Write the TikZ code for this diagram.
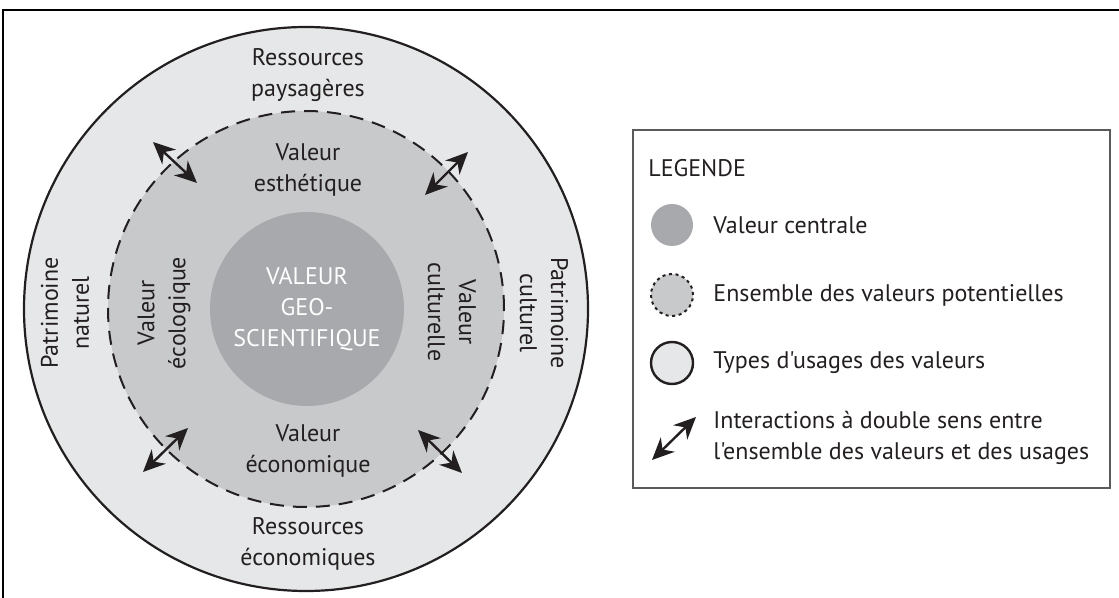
\documentclass[tikz,border=0pt]{standalone}
\usepackage{fontspec}
\setmainfont{PT Sans}[Ligatures=TeXOff]
\usetikzlibrary{arrows.meta}
\definecolor{usage}{RGB}{230,231,232}
\definecolor{potentiel}{RGB}{200,201,203}
\definecolor{centre}{RGB}{167,169,172}
\definecolor{trait}{RGB}{35,31,32}
\definecolor{cadre}{RGB}{90,90,90}
\tikzset{
  lbl/.style={text=trait, align=center, inner sep=0pt, font=\fontsize{12}{15.5}\selectfont},
  dbl/.style={{Stealth[length=11pt,width=10pt]}-{Stealth[length=11pt,width=10pt]}, line width=1.2pt, draw=trait},
}
\begin{document}
\begin{tikzpicture}[x=0.5pt,y=-0.5pt]
	\useasboundingbox (0,0) rectangle (1119,598);
	% cadre
	\draw[line width=1.2pt] (3,598) -- (3,10) -- (1119,10);

	% les trois cercles
	\node[circle, fill=usage, draw=trait, line width=1.1pt, minimum size=282pt, inner sep=0pt] (usages) at (306,309) {};
	\node[circle, fill=potentiel, draw=trait, dash pattern=on 7pt off 4.5pt, line width=1pt, minimum size=198pt, inner sep=0pt] (valeurs) at (306,309) {};
	\node[circle, fill=centre, minimum size=97pt, inner sep=0pt, text=white, align=center, font=\fontsize{12}{15.5}\selectfont] (centrale) at (307,309) {VALEUR\\GEO-\\SCIENTIFIQUE};

	\node[lbl] (paysage) at (308,75) {Ressources\\paysagères};
	\node[lbl] (esthe) at (308,170) {Valeur\\esthétique};
	\node[lbl] (econ) at (308,451) {Valeur\\économique};
	\node[lbl] (reseco) at (308,544) {Ressources\\économiques};
	\node[lbl, rotate=90] (patnat) at (65,313) {Patrimoine\\naturel};
	\node[lbl, rotate=90] (ecolo) at (164,313) {Valeur\\écologique};
	\node[lbl, rotate=-90] (cultu) at (452,312) {Valeur\\culturelle};
	\node[lbl, rotate=-90] (patcul) at (544,313) {Patrimoine\\culturel};

	% interactions
	\coordinate (a1) at (153,142); \coordinate (b1) at (197,183);
	\coordinate (a2) at (468,152); \coordinate (b2) at (425,195);
	\coordinate (a3) at (188,428); \coordinate (b3) at (143,472);
	\coordinate (a4) at (418,430); \coordinate (b4) at (462,473);
	\draw[dbl] (a1) -- (b1);
	\draw[dbl] (a2) -- (b2);
	\draw[dbl] (a3) -- (b3);
	\draw[dbl] (a4) -- (b4);

	% legende
	\draw[draw=cadre, line width=0.8pt] (633,130) rectangle (1110,488);
	\node[lbl, anchor=west] (titre) at (648,168) {LEGENDE};
	\node[circle, fill=centre, minimum size=21pt, inner sep=0pt] (lc1) at (672,225) {};
	\node[circle, fill=potentiel, draw=trait, dash pattern=on 1.5pt off 1.8pt, line width=1pt, minimum size=21pt, inner sep=0pt] (lc2) at (672,295) {};
	\node[circle, fill=usage, draw=trait, line width=1.2pt, minimum size=21pt, inner sep=0pt] (lc3) at (672,363) {};
	\coordinate (la) at (652,460); \coordinate (lb) at (696,417);
	\draw[dbl] (la) -- (lb);
	\node[lbl, anchor=west] (t1) at (713,225) {Valeur centrale};
	\node[lbl, anchor=west] (t2) at (713,295) {Ensemble des valeurs potentielles};
	\node[lbl, anchor=west] (t3) at (713,363) {Types d'usages des valeurs};
	\node[lbl, anchor=west, align=left] (t4) at (713,438) {Interactions à double sens entre\\l'ensemble des valeurs et des usages};
\end{tikzpicture}
\end{document}
